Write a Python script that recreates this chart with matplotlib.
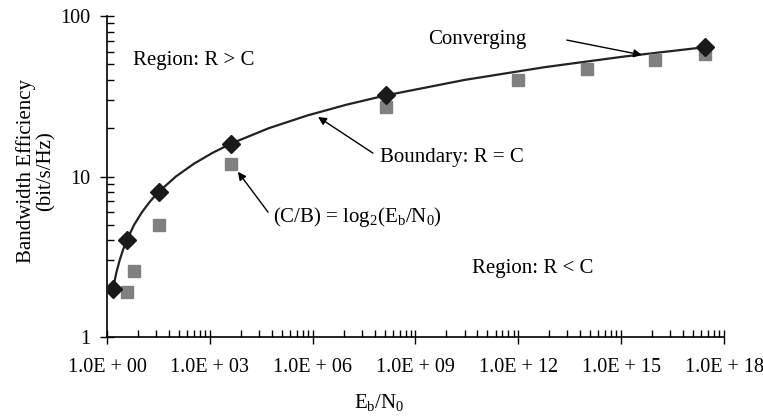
import numpy as np
import matplotlib
matplotlib.use("Agg")
from matplotlib import pyplot as plt
from matplotlib.ticker import FixedLocator, NullFormatter

plt.rcParams['font.family'] = ['Liberation Serif', 'DejaVu Serif']
plt.rcParams['mathtext.fontset'] = 'custom'
plt.rcParams['mathtext.rm'] = 'Liberation Serif'
plt.rcParams['mathtext.it'] = 'Liberation Serif'

# Shannon boundary R = C (spectral efficiency vs Eb/N0)
boundary_rate = [2, 2.5, 3, 3.5, 4, 5, 6, 7, 8, 10, 12, 14, 16, 20, 24, 28, 32, 40, 48, 56, 64]
boundary_ebn0 = [1.5, 1.863, 2.333, 2.947, 3.75, 6.2, 10.5, 18.14, 31.875, 102.3, 341.25,
                 1170.2, 4096, 52428.75, 6.99e5, 9.587e6, 1.342e8, 2.749e10, 5.864e12,
                 1.287e15, 2.882e17]

# diamond markers on the boundary
diamond_ebn0 = [1.5, 3.75, 31.875, 4096, 1.342e8, 2.882e17]
diamond_rate = [2, 4, 8, 16, 32, 64]

# squares: (C/B) = log2(Eb/N0)
square_ebn0 = [3.75, 6, 31.875, 4096, 1.342e8, 1e12, 1e14, 1e16, 2.882e17]
square_rate = [1.91, 2.58, 5.0, 12.0, 27.0, 39.9, 46.5, 53.2, 58.0]

xticks = [1e0, 1e3, 1e6, 1e9, 1e12, 1e15, 1e18]
xticklabels = ['1.0E + 00', '1.0E + 03', '1.0E + 06', '1.0E + 09',
               '1.0E + 12', '1.0E + 15', '1.0E + 18']
yticks = [1, 10, 100]
yticklabels = ['1', '10', '100']

fig = plt.figure(figsize=(7.63, 4.16), dpi=100)
ax = fig.add_axes([0.1402, 0.1899, 0.8087, 0.7716])

ax.plot(boundary_ebn0, boundary_rate, color='#222222', lw=1.6, zorder=2)
ax.plot(square_ebn0, square_rate, ls='none', marker='s', ms=8.5,
        color='#808080', mec='#808080', zorder=3)
ax.plot(diamond_ebn0, diamond_rate, ls='none', marker='D', ms=9.5,
        color='#1a1a1a', mec='#1a1a1a', zorder=4)

ax.set_xscale('log')
ax.set_yscale('log')
ax.set_xlim(1e0, 1e18)
ax.set_ylim(1, 100)

ax.xaxis.set_major_locator(FixedLocator(xticks))
ax.set_xticklabels(xticklabels)
xminor = []
for n in range(0, 18, 3):
    for k in range(2, 10):
        xminor.append(10 ** (n + 3 * np.log10(k)))
ax.xaxis.set_minor_locator(FixedLocator(xminor))
ax.xaxis.set_minor_formatter(NullFormatter())

ax.yaxis.set_major_locator(FixedLocator(yticks))
ax.set_yticklabels(yticklabels)
yminor = [k * 10 ** n for n in range(0, 2) for k in range(2, 10)]
ax.yaxis.set_minor_locator(FixedLocator(yminor))
ax.yaxis.set_minor_formatter(NullFormatter())

ax.tick_params(which='major', direction='inout', length=10, width=1, labelsize=14.5)
ax.tick_params(axis='x', which='major', pad=10)
ax.tick_params(axis='y', which='major', pad=7)
ax.tick_params(which='minor', direction='in', length=5, width=1)
for s in ['top', 'right']:
    ax.spines[s].set_visible(False)
for s in ['left', 'bottom']:
    ax.spines[s].set_linewidth(1.2)

ax.set_xlabel(r'E$_\mathrm{b}$/N$_0$', fontsize=15)
ax.xaxis.set_label_coords(0.442, -0.172)
ax.set_ylabel('Bandwidth Efficiency\n(bit/s/Hz)', fontsize=15, linespacing=1.0)
ax.yaxis.set_label_coords(-0.084, 0.517)

ax.text(5.7, 53, 'Region: R > C', fontsize=15, va='center', ha='left')
ax.text(4.4e10, 2.69, 'Region: R < C', fontsize=15, va='center', ha='left')
ax.text(2.3e9, 71, 'Converging', fontsize=15, va='center', ha='left')
ax.text(9.2e7, 13.2, 'Boundary: R = C', fontsize=15, va='center', ha='left')
ax.text(6.9e4, 5.6, r'(C/B) = log$_2$(E$_\mathrm{b}$/N$_0$)', fontsize=15, va='center', ha='left')

arrow = dict(arrowstyle='-|>', color='black', lw=1.0, mutation_scale=12, shrinkA=0, shrinkB=0)
ax.annotate('', xy=(4e15, 57.2), xytext=(2.6e13, 70.8), arrowprops=arrow)
ax.annotate('', xy=(1.44e6, 23.5), xytext=(5.7e7, 14.0), arrowprops=arrow)
ax.annotate('', xy=(6.6e3, 10.7), xytext=(5e4, 6.0), arrowprops=arrow)

fig.savefig('out.png', dpi=100)
